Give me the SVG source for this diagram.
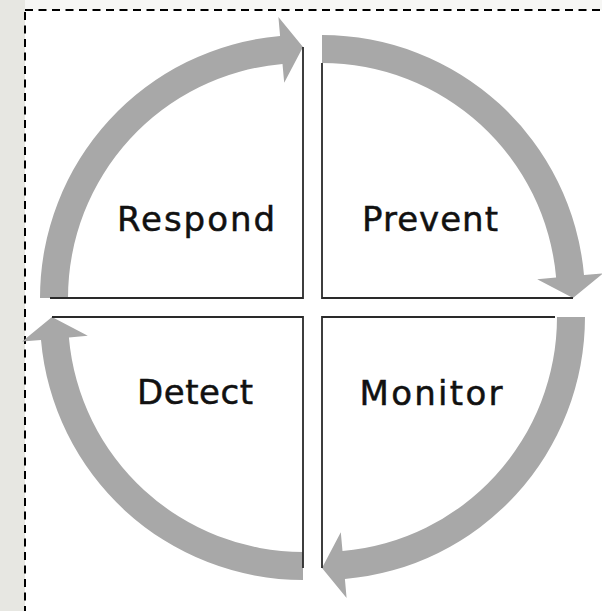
<svg xmlns="http://www.w3.org/2000/svg" width="602" height="611" viewBox="0 0 602 611">
<style>
.arc{fill:#a8a8a8;stroke:none}
.ln{stroke:#2a2a2a;stroke-width:1.8;fill:none}
.lbl{font-family:"DejaVu Sans","Noto Sans",sans-serif;font-size:34px;fill:#111;stroke:#111;stroke-width:0.5;text-anchor:middle}
</style>
<rect x="0" y="0" width="602" height="611" fill="#f6f6f4"/>
<rect x="0" y="0" width="25" height="611" fill="#e7e7e2"/>
<rect x="25" y="10" width="600" height="620" fill="#fff" stroke="#000" stroke-width="2" stroke-dasharray="8 5.5"/>
<g id="connectors">
<path class="arc" d="M 322 35 A 263 263 0 0 1 584.0 275.1 L 602.9 273.4 L 573 298 L 537.2 279.2 L 556.1 277.5 A 235 235 0 0 0 322 63 Z"/>
<path class="arc" d="M 585 317 A 263 263 0 0 1 344.9 579.0 L 346.6 597.9 L 322 568 L 340.8 532.2 L 342.5 551.1 A 235 235 0 0 0 557 317 Z"/>
<path class="arc" d="M 303 580 A 263 263 0 0 1 41.0 339.9 L 22.1 341.6 L 52 317 L 87.8 335.8 L 68.9 337.5 A 235 235 0 0 0 303 552 Z"/>
<path class="arc" d="M 40 298 A 263 263 0 0 1 280.1 36.0 L 278.4 17.1 L 303 47 L 284.2 82.8 L 282.5 63.9 A 235 235 0 0 0 68 298 Z"/>
</g>
<g id="respond">
<path class="ln" d="M 303 47 L 303 298 L 50 298"/>
<text class="lbl" x="196" y="231" textLength="158" lengthAdjust="spacing">Respond</text>
</g>
<g id="prevent">
<path class="ln" d="M 322 63 L 322 298 L 573 298"/>
<text class="lbl" x="430" y="231" textLength="136" lengthAdjust="spacing">Prevent</text>
</g>
<g id="monitor">
<path class="ln" d="M 555 317 L 322 317 L 322 568"/>
<text class="lbl" x="431" y="405" textLength="143" lengthAdjust="spacing">Monitor</text>
</g>
<g id="detect">
<path class="ln" d="M 303 568 L 303 317 L 52 317"/>
<text class="lbl" x="195" y="404" textLength="116" lengthAdjust="spacing">Detect</text>
</g>
</svg>
